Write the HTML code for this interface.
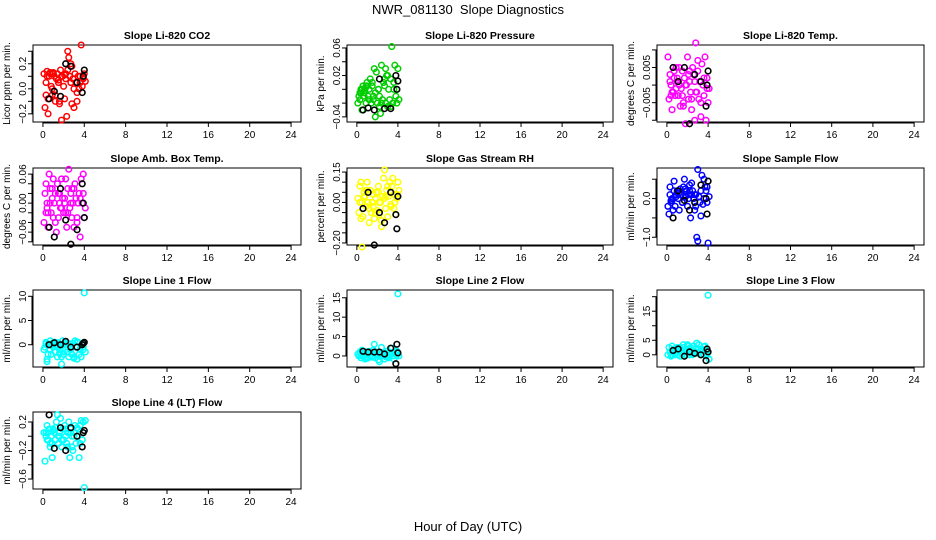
<!DOCTYPE html>
<html><head><meta charset="utf-8"><style>
html,body{margin:0;padding:0;background:#fff;}
svg{display:block;font-family:"Liberation Sans",sans-serif;}
</style></head><body>
<svg id="c" width="936" height="540" viewBox="0 0 936 540">
<text x="468" y="14" font-size="13" text-anchor="middle">NWR_081130&#160; Slope Diagnostics</text>
<text x="468" y="531" font-size="13" text-anchor="middle">Hour of Day (UTC)</text>
</svg>
<script>
const hours = [0.1,0.2,0.3,0.4,0.5,0.6,0.7,0.8,0.9,1.0,1.1,1.2,1.3,1.4,1.5,1.6,1.7,1.8,1.9,2.0,2.1,2.2,2.3,2.4,2.5,2.6,2.7,2.8,2.9,3.0,3.1,3.2,3.3,3.4,3.5,3.6,3.7,3.8,3.9,4.0,4.1,
 0.3,0.5,0.7,0.9,1.2,1.5,1.8,2.1,2.4,2.7,3.0,3.3,3.6,3.9,0.4,1.0,1.6,2.2,2.8];
const blackHours = [0.6,1.1,1.7,2.2,2.7,3.3,3.8,3.9,4.0];
const xTicks = [0,4,8,12,16,20,24];

const co2 = [0.12,-0.15,0.05,0.14,-0.2,0.1,0.13,0.02,-0.05,0.12,0.1,-0.1,0.08,0.12,0.05,-0.12,0.15,-0.25,0.1,0.02,0.11,0.08,-0.22,0.3,0.25,0.1,0.05,-0.12,0.08,-0.15,0.12,0.05,-0.03,0.1,0.0,0.1,0.35,0.02,0.08,0.12,0.06,
 -0.05,-0.08,0.12,0.0,-0.05,0.07,0.1,-0.08,0.15,0.2,0.0,-0.1,0.05,0.09,0.1,0.13,-0.1,0.12,0.18];
const co2Black = [-0.08,-0.02,-0.06,0.2,0.18,0.05,-0.03,0.1,0.15];
const pres = [-0.02,-0.01,-0.015,0.0,-0.03,0.005,-0.005,0.0,-0.02,0.01,-0.01,0.0,0.015,-0.02,0.005,-0.01,0.03,-0.04,0.025,-0.02,0.0,-0.025,-0.035,0.035,-0.015,0.01,0.005,-0.02,0.02,-0.025,0.0,-0.015,0.015,0.062,-0.02,0.01,0.035,-0.01,0.0,0.03,-0.015,
 -0.005,0.0,-0.01,0.005,-0.015,0.01,-0.005,0.0,-0.02,0.015,0.02,-0.025,0.0,-0.02,-0.005,0.005,-0.015,-0.01,0.03];
const presBlack = [-0.03,-0.027,-0.03,0.015,-0.028,-0.028,0.02,0.0,0.012];
const temp = [0.008,-0.004,0.003,0.0,-0.007,-0.002,0.002,-0.003,0.005,0.001,-0.003,0.0,-0.006,-0.001,0.004,-0.005,0.002,-0.011,0.0,0.008,-0.004,0.001,-0.002,-0.007,0.005,0.003,-0.01,0.012,-0.002,0.004,-0.004,0.001,-0.009,0.006,0.0,-0.003,0.008,-0.01,0.002,-0.005,-0.001,
 0.001,-0.002,0.004,-0.001,0.005,-0.003,0.0,0.003,-0.004,0.001,0.007,-0.005,0.002,-0.001,-0.003,0.002,-0.006,0.004,-0.002];
const tempBlack = [0.005,0.001,0.005,-0.011,0.003,0.001,-0.006,0.0,0.004];
const amb = [-0.04,0.02,-0.02,0.0,-0.05,0.06,0.03,-0.02,0.01,-0.03,0.0,0.02,-0.06,0.04,-0.03,0.02,-0.01,0.05,0.01,-0.02,0.0,0.05,-0.05,0.03,0.07,-0.01,0.02,-0.03,0.0,-0.05,0.04,0.01,-0.04,0.0,0.02,-0.07,0.05,0.0,0.06,-0.03,-0.01,
 0.04,-0.02,0.0,0.03,-0.04,0.02,-0.01,0.01,-0.02,0.0,0.03,-0.03,0.01,0.02,-0.01,0.05,0.0,-0.02,0.03];
const ambBlack = [-0.05,-0.07,0.03,-0.035,-0.085,-0.055,0.04,0.0,-0.03];
const rh = [0.02,-0.05,0.08,0.1,0.0,-0.07,0.05,0.03,-0.02,0.1,0.0,-0.1,0.06,-0.05,0.0,0.04,-0.08,0.02,0.05,-0.04,0.08,-0.06,0.0,-0.12,0.03,0.12,0.16,-0.03,0.06,-0.07,0.03,0.1,-0.02,0.08,0.12,-0.03,0.0,-0.06,0.04,0.1,0.06,
 0.0,-0.22,0.03,0.06,-0.03,0.0,-0.05,0.05,-0.09,0.02,0.08,-0.01,0.04,0.02,-0.08,0.06,-0.02,0.0,0.03];
const rhBlack = [-0.03,0.05,-0.21,-0.05,-0.1,0.05,-0.06,-0.13,0.03];
const sflow = [-0.2,-0.4,0.3,-0.1,0.0,-0.3,0.45,-0.2,0.1,0.2,0.0,-0.3,0.25,0.1,-0.1,0.3,0.5,0.05,0.2,-0.2,0.1,0.35,-0.5,0.4,0.2,0.0,0.1,-0.2,-1.0,0.75,0.05,-0.1,-0.45,0.6,-0.15,0.5,0.3,0.2,-0.1,-1.15,0.05,
 0.1,-0.05,0.2,0.05,0.15,-0.1,0.25,0.0,0.1,-0.3,-1.1,0.2,0.0,0.3,-0.05,0.15,0.05,0.2,0.1];
const sflowBlack = [-0.5,0.2,-0.05,-0.3,-0.1,0.35,0.0,-0.4,0.45];
const line1 = [-1,-0.5,0.5,-3.5,0,-1,0.8,-2,0.3,-0.5,0.5,-1.5,-0.2,-2.5,0.4,-1,-0.3,-4,0.8,-2,0,0.5,-1.5,-0.5,-2.5,0.2,-1,-2,0.3,-2.5,0.8,-0.5,-3,0.5,-2,-0.8,-2.5,0.2,-1,10.7,-1.5,
 0.2,-2,-1,0,0.5,-0.5,-2.5,0.3,-1.5,-0.3,-2.8,0.6,-1,-0.5,-3,0.4,-1.8,-1,-2];
const line1Black = [0,0.4,0,0.7,-0.5,-0.5,0,0.3,0.5];
const line2 = [0.5,0,1,-0.5,1.5,0,0.5,-0.8,1,0.2,-0.5,1.2,0,0.8,-0.3,1.5,3,-0.5,0.6,0.2,1,-1.5,0.5,2.2,0,0.8,-0.8,0.3,1.2,0,-0.5,1,0.3,2,0,-0.8,0.5,1,0.2,16,0,
 0.8,0,1.2,-0.5,0.5,0,1,-1,0.3,0.8,-0.3,0.5,0,1.2,0.3,-0.6,0.7,0.2,-0.2];
const line2Black = [1.2,1,1,1,0.5,2,-2,3,0.8];
const line3 = [0,2.5,1,0,3,1.5,2,0,1.2,2.5,0,1,-0.5,2,0.5,3.5,1,0,2,3.5,1,0,2.5,1.5,0,3,1,2,4,0.5,3.5,1,0,2,1.5,0,3,1,0,20.5,-1.5,
 1,0,2,0.5,2.5,0,1.5,3,0.5,1,2,0,2.8,1,-0.5,1.5,2.5,0,1];
const line3Black = [1.5,2,-0.5,1,0.5,0,-2,2,1];
const line4 = [0.05,-0.35,0.05,0.15,-0.05,0.1,-0.1,0.0,-0.3,0.1,0.05,-0.05,0.2,0.3,-0.1,0.05,0.25,-0.15,0.1,-0.05,0.15,0.0,-0.1,0.05,0.2,-0.3,0.1,0.0,-0.2,0.05,0.15,-0.1,0.0,0.1,-0.3,0.15,0.22,-0.05,0.2,-0.72,0.22,
 0.0,0.05,-0.15,-0.1,0.12,0.0,-0.05,0.1,-0.15,0.05,0.0,0.12,-0.1,0.05,-0.05,0.08,0.0,0.1,-0.15];
const line4Black = [0.3,-0.17,0.12,-0.2,0.12,0.0,-0.15,0.05,0.08];

const co2Ticks=[-0.2,-0.1,0,0.1,0.2,0.3], co2Labels=["-0.2","","0.0","","0.2",""];
const presTicks=[-0.04,-0.02,0,0.02,0.04,0.06], presLabels=["-0.04","","","0.02","","0.06"];
const tempTicks=[-0.01,-0.005,0,0.005,0.01], tempLabels=["","-0.005","","0.005",""];
const ambTicks=[-0.08,-0.06,-0.04,-0.02,0,0.02,0.04,0.06], ambLabels=["","-0.06","","","0.00","","","0.06"];
const rhTicks=[-0.2,-0.15,-0.1,-0.05,0,0.05,0.1,0.15], rhLabels=["-0.20","","","","0.00","","","0.15"];
const sfTicks=[-1,-0.5,0,0.5], sfLabels=["-1.0","","0.0",""];
const l1Ticks=[0,5,10], l1Labels=["0","5","10"];
const l2Ticks=[0,5,10,15], l2Labels=["0","5","10","15"];
const l3Ticks=[0,5,10,15,20], l3Labels=["0","5","","15",""];
const l4Ticks=[-0.6,-0.4,-0.2,0,0.2], l4Labels=["-0.6","","-0.2","","0.2"];

const panels = [
 {t:"Slope Li-820 CO2", yl:"Licor ppm per min.", c:"#ff0000", y:co2, b:co2Black, tk:co2Ticks, lb:co2Labels, ymin:-0.265, ymax:0.35, col:0,row:0},
 {t:"Slope Li-820 Pressure", yl:"kPa per min.", c:"#00cd00", y:pres, b:presBlack, tk:presTicks, lb:presLabels, ymin:-0.0474, ymax:0.0643, col:1,row:0},
 {t:"Slope Li-820 Temp.", yl:"degrees C per min.", c:"#ff00ff", y:temp, b:tempBlack, tk:tempTicks, lb:tempLabels, ymin:-0.0105, ymax:0.0114, col:2,row:0},
 {t:"Slope Amb. Box Temp.", yl:"degrees C per min.", c:"#ff00ff", y:amb, b:ambBlack, tk:ambTicks, lb:ambLabels, ymin:-0.0866, ymax:0.0726, col:0,row:1},
 {t:"Slope Gas Stream RH", yl:"percent per min.", c:"#ffff00", y:rh, b:rhBlack, tk:rhTicks, lb:rhLabels, ymin:-0.21, ymax:0.17, col:1,row:1},
 {t:"Slope Sample Flow", yl:"ml/min per min.", c:"#0000ff", y:sflow, b:sflowBlack, tk:sfTicks, lb:sfLabels, ymin:-1.2, ymax:0.79, col:2,row:1},
 {t:"Slope Line 1 Flow", yl:"ml/min per min.", c:"#00ffff", y:line1, b:line1Black, tk:l1Ticks, lb:l1Labels, ymin:-4.6, ymax:11.3, col:0,row:2},
 {t:"Slope Line 2 Flow", yl:"ml/min per min.", c:"#00ffff", y:line2, b:line2Black, tk:l2Ticks, lb:l2Labels, ymin:-2.85, ymax:17.0, col:1,row:2},
 {t:"Slope Line 3 Flow", yl:"ml/min per min.", c:"#00ffff", y:line3, b:line3Black, tk:l3Ticks, lb:l3Labels, ymin:-4.2, ymax:22.3, col:2,row:2},
 {t:"Slope Line 4 (LT) Flow", yl:"ml/min per min.", c:"#00ffff", y:line4, b:line4Black, tk:l4Ticks, lb:l4Labels, ymin:-0.74, ymax:0.34, col:0,row:3}
];
const colL=[33,347,657], colR=[301,613,924], rowT=[45,168,290,412], H=77;
const svg=document.getElementById('c');
const NS="http://www.w3.org/2000/svg";
function mk(tag,attrs,parent){const e=document.createElementNS(NS,tag);for(const k in attrs)e.setAttribute(k,attrs[k]);(parent||svg).appendChild(e);return e;}
function slug(s){return s.toLowerCase().replace(/[^a-z0-9]+/g,'-').replace(/^-|-$/g,'');}

panels.forEach(p=>{
 const L=colL[p.col],R=colR[p.col],T=rowT[p.row],B=T+H,W=R-L;
 const sx=h=>L+(h+0.96)/25.92*W;
 const sy=v=>B-(v-p.ymin)/(p.ymax-p.ymin)*H;
 const g=mk('g',{});
 
 
 const box=mk('rect',{x:L,y:T,width:W,height:H,fill:'none',stroke:'#000','stroke-width':1},g);
 
 
 const tt=mk('text',{x:(L+R)/2,y:T-6,'font-size':10.5,'font-weight':'bold','text-anchor':'middle'},g);
 tt.textContent=p.t;
 
 
 mk('line',{x1:sx(0),x2:sx(24),y1:B+1,y2:B+1,stroke:'#000'},g);
 xTicks.forEach(v=>{
  mk('line',{x1:sx(v),x2:sx(v),y1:B,y2:B+5,stroke:'#000'},g);
  const t=mk('text',{x:sx(v),y:B+16,'font-size':10,'text-anchor':'middle'},g);
  t.textContent=v;
  
  
 });
 const ty=p.tk.map(sy);
 mk('line',{x1:L-1,x2:L-1,y1:ty[0],y2:ty[ty.length-1],stroke:'#000'},g);
 p.tk.forEach((v,i)=>{
  mk('line',{x1:L-5,x2:L,y1:ty[i],y2:ty[i],stroke:'#000'},g);
  if(p.lb[i]){
   const t=mk('text',{x:L-7,y:ty[i],'font-size':10,'text-anchor':'middle',transform:`rotate(-90 ${L-7} ${ty[i]})`},g);
   t.textContent=p.lb[i].replace('-','\u2212');
   
   
  }
 });
 const yt=mk('text',{x:L-23,y:(T+B)/2,'font-size':10,'text-anchor':'middle',transform:`rotate(-90 ${L-23} ${(T+B)/2})`},g);
 yt.textContent=p.yl;
 
 
 hours.forEach((h,i)=>{
  const c=mk('circle',{cx:sx(h),cy:sy(p.y[i]),r:2.8,fill:'none',stroke:p.c,'stroke-width':1.5},g);
  
  
 });
 blackHours.forEach((h,i)=>{
  const c=mk('circle',{cx:sx(h),cy:sy(p.b[i]),r:2.8,fill:'none',stroke:'#000','stroke-width':1.6},g);
  
  
 });
});
</script>
</body></html>
